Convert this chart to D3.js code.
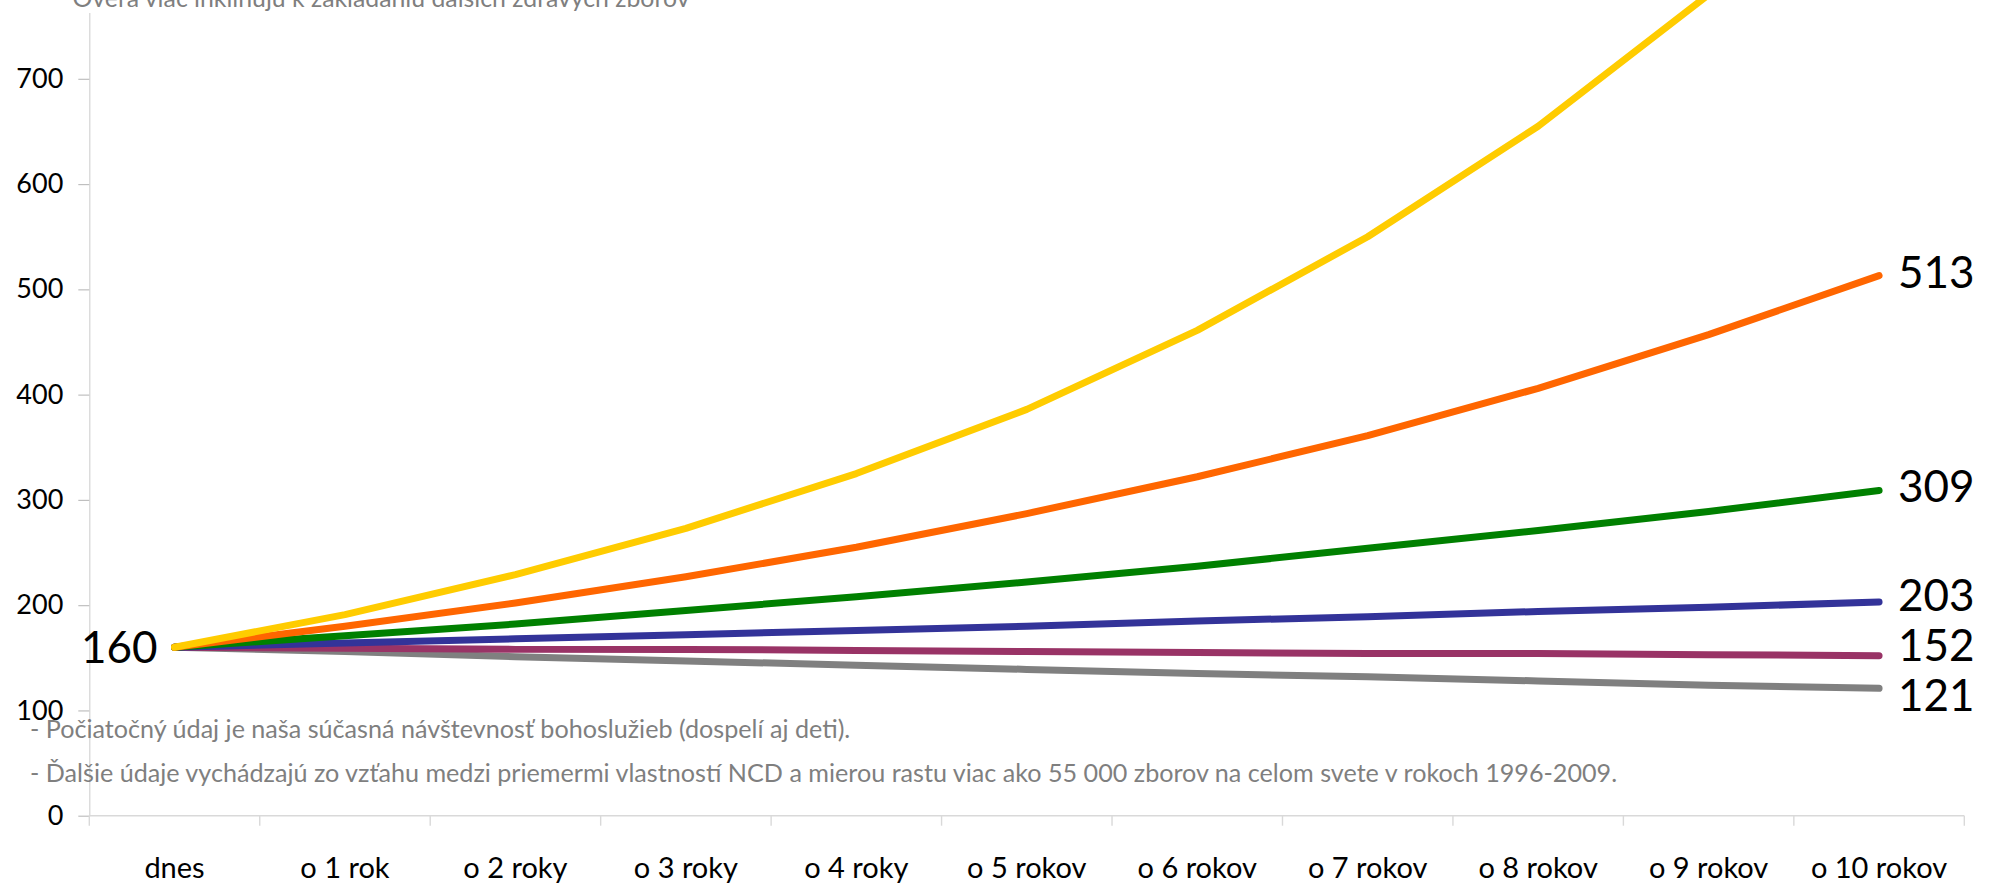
<!DOCTYPE html>
<html>
<head>
<meta charset="utf-8">
<script src="https://cdn.jsdelivr.net/npm/d3@7"></script>
<style>
  html, body { margin: 0; padding: 0; background: #fff; overflow: hidden; }
  svg { display: block; font-family: Lato, "Open Sans", sans-serif; }
</style>
</head>
<body>
<svg id="chart" width="1992" height="884"></svg>
<script>
// ---------- data ----------
const categories = ["dnes", "o 1 rok", "o 2 roky", "o 3 roky", "o 4 roky", "o 5 rokov",
                    "o 6 rokov", "o 7 rokov", "o 8 rokov", "o 9 rokov", "o 10 rokov"];
const yellowValues = [160, 191, 229, 273, 325, 386, 461, 550, 655, 780, 928];
const orangeValues = [160, 180, 202, 227, 255, 287, 322, 361, 406, 457, 513];
const greenValues  = [160, 171, 182, 195, 208, 222, 237, 254, 271, 289, 309];
const blueValues   = [160, 164, 168, 172, 176, 180, 185, 189, 194, 198, 203];
const purpleValues = [160, 159, 158, 158, 157, 156, 155, 154, 154, 153, 152];
const grayValues   = [160, 156, 151, 147, 143, 139, 135, 132, 128, 124, 121];
const yTickValues  = [0, 100, 200, 300, 400, 500, 600, 700];
const axisMax = 763;
const topNote = "- Overa viac inklinujú k zakladaniu  ďalších zdravých zborov";
const notes = [
  "- Počiatočný údaj je naša súčasná návštevnosť bohoslužieb (dospelí aj deti).",
  "- Ďalšie údaje vychádzajú zo vzťahu medzi priemermi vlastností NCD a mierou rastu viac ako 55 000 zborov na celom svete v rokoch 1996-2009."
];

// drawing order: bottom first
const series = [
  { name: "Séria 6", values: grayValues,   color: "#808080" },
  { name: "Séria 5", values: purpleValues, color: "#993366" },
  { name: "Séria 4", values: blueValues,   color: "#333399" },
  { name: "Séria 3", values: greenValues,  color: "#008000" },
  { name: "Séria 2", values: orangeValues, color: "#FF6600" },
  { name: "Séria 1", values: yellowValues, color: "#FFCC00" }
];

// ---------- layout ----------
const svg = d3.select("#chart");
const plotLeft = 89.3, plotRight = 1964.3, plotBottom = 815.7, plotTop = 12.5;

const x = d3.scaleBand().domain(categories).range([plotLeft, plotRight]).paddingInner(0).paddingOuter(0);
const y = d3.scaleLinear().domain([0, axisMax]).range([plotBottom, plotTop]);
const cx = c => x(c) + x.bandwidth() / 2;

// y axis
const yAxis = svg.append("g")
  .attr("transform", `translate(${plotLeft},0)`)
  .call(d3.axisLeft(y).tickValues(yTickValues).tickSize(11).tickPadding(15).tickSizeOuter(0).tickFormat(d3.format("d")));
yAxis.select(".domain").attr("stroke", "#d4d4d4").attr("stroke-width", 1.2);
yAxis.selectAll(".tick line").attr("stroke", "#bfbfbf").attr("stroke-width", 1.2);
yAxis.selectAll(".tick text")
  .attr("fill", "#000").attr("font-size", 27).attr("font-family", "Lato, sans-serif");

// x axis line
svg.append("line")
  .attr("x1", plotLeft).attr("x2", plotRight).attr("y1", y(0)).attr("y2", y(0))
  .attr("stroke", "#d9d9d9").attr("stroke-width", 1.6);
// x ticks at band boundaries
const boundaries = categories.map(c => x(c)).concat([x(categories[categories.length - 1]) + x.bandwidth()]);
svg.append("g").selectAll("line").data(boundaries).join("line")
  .attr("x1", d => d).attr("x2", d => d)
  .attr("y1", y(0)).attr("y2", y(0) + 10)
  .attr("stroke", "#d9d9d9").attr("stroke-width", 1.4);
// x labels
svg.append("g").selectAll("text").data(categories).join("text")
  .attr("x", d => cx(d)).attr("y", y(0) + 62)
  .attr("text-anchor", "middle")
  .attr("font-size", 29).attr("fill", "#000")
  .text(d => d);

// notes (gray)
const noteG = svg.append("g").attr("fill", "#7f7f7f");
const n2 = noteG.append("text").attr("x", 30).attr("y", 782).attr("font-size", 24).text(notes[1]);
const w2 = n2.node().getComputedTextLength();
const noteSize = 24 * (1588 / w2);
n2.attr("font-size", noteSize);
noteG.append("text").attr("x", 30).attr("y", 738).attr("font-size", noteSize).text(notes[0]);

const tn = noteG.append("text").attr("x", 57).attr("y", 7).attr("font-size", 24).text(topNote);
const wt = tn.node().getComputedTextLength();
tn.attr("font-size", 24 * (633 / wt));

// lines
const line = d3.line().x((d, i) => cx(categories[i])).y(d => y(d));
svg.append("g").selectAll("path").data(series).join("path")
  .attr("d", d => line(d.values))
  .attr("fill", "none")
  .attr("stroke", d => d.color)
  .attr("stroke-width", 7)
  .attr("stroke-linecap", "round")
  .attr("stroke-linejoin", "round");

// start label
svg.append("text")
  .attr("x", cx(categories[0]) - 17)
  .attr("y", y(series[0].values[0]))
  .attr("dy", "0.36em")
  .attr("text-anchor", "end")
  .attr("font-size", 44).attr("fill", "#000")
  .text(series[0].values[0]);

// end labels with simple collision relaxation
const lastIdx = categories.length - 1;
const endLabels = series
  .filter(s => s.values[lastIdx] <= d3.max(yTickValues))
  .map(s => ({ v: s.values[lastIdx], y: y(s.values[lastIdx]) }))
  .sort((a, b) => a.y - b.y);
const gap = 50;
for (let it = 0; it < 200; it++) {
  for (let i = 0; i < endLabels.length - 1; i++) {
    const d = endLabels[i + 1].y - endLabels[i].y;
    if (d < gap) {
      const s = (gap - d) / 2;
      endLabels[i].y -= s;
      endLabels[i + 1].y += s;
    }
  }
}
svg.append("g").selectAll("text").data(endLabels).join("text")
  .attr("x", cx(categories[lastIdx]) + 19)
  .attr("y", d => d.y - 4)
  .attr("dy", "0.36em")
  .attr("font-size", 44).attr("fill", "#000")
  .text(d => d.v);
</script>
</body>
</html>
